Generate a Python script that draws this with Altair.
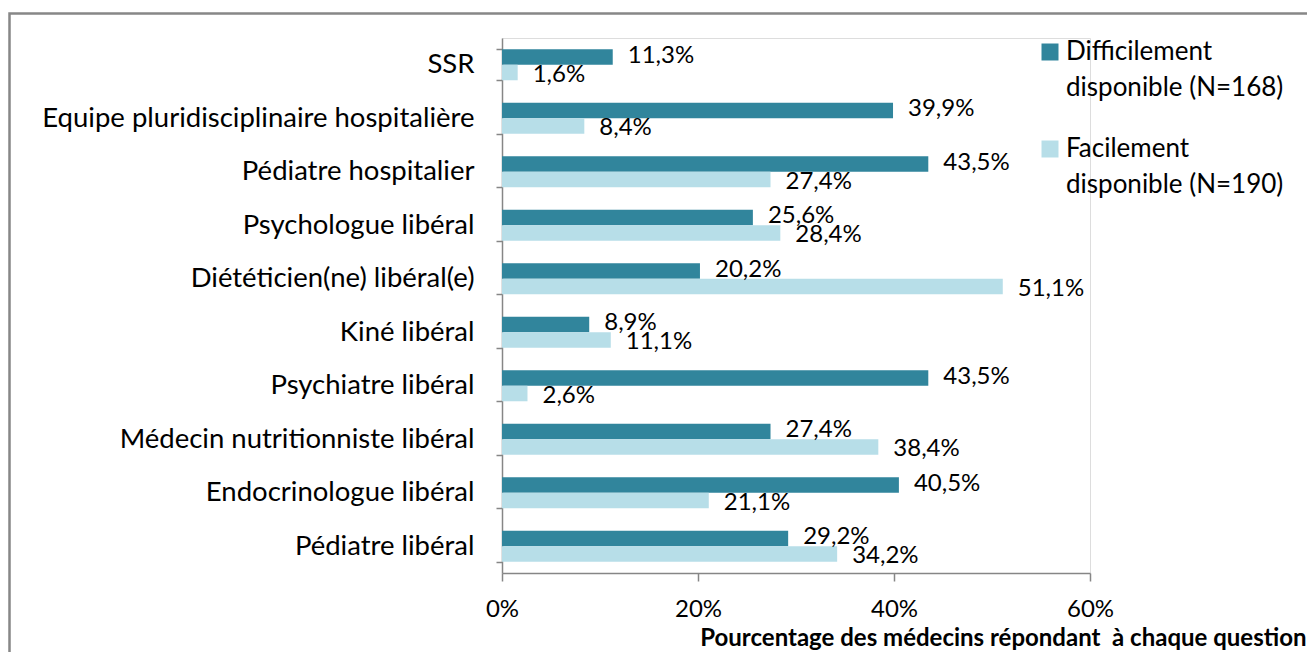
import altair as alt
import pandas as pd

categories = [
    "SSR",
    "Equipe pluridisciplinaire hospitalière",
    "Pédiatre hospitalier",
    "Psychologue libéral",
    "Diététicien(ne) libéral(e)",
    "Kiné libéral",
    "Psychiatre libéral",
    "Médecin nutritionniste libéral",
    "Endocrinologue libéral",
    "Pédiatre libéral",
]
series = ["Difficilement disponible (N=168)", "Facilement disponible (N=190)"]
difficile = [11.3, 39.9, 43.5, 25.6, 20.2, 8.9, 43.5, 27.4, 40.5, 29.2]
facile = [1.6, 8.4, 27.4, 28.4, 51.1, 11.1, 2.6, 38.4, 21.1, 34.2]
colors = ["#31859C", "#B7DEE8"]
x_ticks = [0, 20, 40, 60]
x_title = "Pourcentage des médecins répondant\u00a0 à chaque question"

rows = []
for c, d, f in zip(categories, difficile, facile):
    rows.append({"cat": c, "series": series[0], "value": d})
    rows.append({"cat": c, "series": series[1], "value": f})
df = pd.DataFrame(rows)
df["label"] = df["value"].map(lambda v: f"{v:.1f}".replace(".", ",") + "%")

FONT = "Lato"
AXIS_GREY = "#868686"

y_enc = alt.Y(
    "cat:N",
    sort=categories,
    scale=alt.Scale(paddingInner=0.42, paddingOuter=0.21),
    axis=alt.Axis(
        title=None,
        tickBand="extent",
        tickSize=6,
        tickColor=AXIS_GREY,
        tickWidth=1.5,
        domainColor=AXIS_GREY,
        domainWidth=1.5,
        labelFont=FONT,
        labelFontSize=27.5,
        labelColor="#000000",
        labelPadding=22,
        labelLimit=700,
    ),
)
yoff = alt.YOffset("series:N", sort=series, scale=alt.Scale(paddingInner=0, paddingOuter=0))

x_enc = alt.X(
    "value:Q",
    scale=alt.Scale(domain=[0, 60]),
    axis=alt.Axis(
        values=x_ticks,
        labelExpr="datum.value + '%'",
        labelFlush=False,
        grid=False,
        tickSize=8,
        tickColor=AXIS_GREY,
        tickWidth=1.5,
        domainColor=AXIS_GREY,
        domainWidth=1.5,
        labelFont=FONT,
        labelFontSize=24,
        labelColor="#000000",
        labelPadding=16,
        title=x_title,
        titleFont=FONT,
        titleFontSize=24,
        titleFontWeight="bold",
        titleColor="#000000",
        titleAnchor="end",
        titleAlign="right",
        titleX=804,
        titleY=72,
        titleBaseline="alphabetic",
    ),
)

bars = alt.Chart(df).mark_bar().encode(
    x=x_enc,
    y=y_enc,
    yOffset=yoff,
    color=alt.Color(
        "series:N",
        sort=series,
        scale=alt.Scale(domain=series, range=colors),
        legend=alt.Legend(
            title=None,
            orient="none",
            legendX=535,
            legendY=1,
            symbolType="square",
            symbolSize=289,
            symbolStrokeWidth=0,
            labelOffset=3,
            labelFont=FONT,
            labelFontSize=26,
            labelColor="#000000",
            labelLimit=400,
            labelExpr="[split(datum.label, ' ')[0], slice(datum.label, indexof(datum.label, ' ') + 1)]",
            rowPadding=35,
        ),
    ),
)


def label_layer(name, dy):
    return (
        alt.Chart(df)
        .transform_filter(alt.datum.series == name)
        .mark_text(align="left", baseline="middle", dx=15, dy=dy, font=FONT, fontSize=24, color="#000000")
        .encode(
            x="value:Q",
            y=alt.Y("cat:N", sort=categories),
            yOffset=alt.YOffset("series:N", sort=series),
            text="label:N",
        )
    )


labels_dark = label_layer(series[0], -1)
labels_light = label_layer(series[1], 2)

border = alt.Chart(pd.DataFrame({"k": [0]})).mark_rect(
    fill=None, fillOpacity=0, stroke="#878787", strokeWidth=2.5
).encode(
    x=alt.value(-492.5), x2=alt.value(1000), y=alt.value(-24.5), y2=alt.value(800)
)

chart = (
    alt.layer(border, bars, labels_dark, labels_light)
    .properties(
        width=588,
        height=535,
        autosize=alt.AutoSizeParams(type="none"),
        padding={"left": 494, "top": 30, "right": 217, "bottom": 79},
    )
    .configure_view(stroke=None)
    .configure(background="white", style={"guide-label": {"lineHeight": 36}})
)

chart.save("out.html", embed_options={"renderer": "svg", "actions": False})
